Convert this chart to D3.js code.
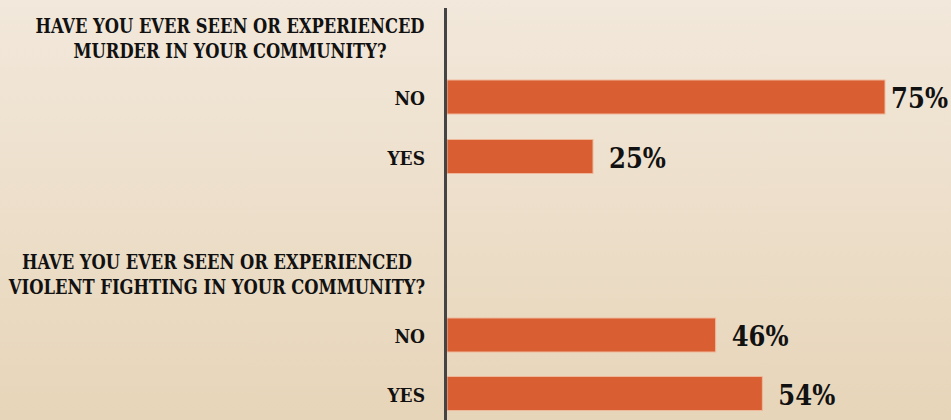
<!DOCTYPE html>
<html>
<head>
<meta charset="utf-8">
<script src="https://cdn.jsdelivr.net/npm/d3@7/dist/d3.min.js"></script>
<style>
  html, body { margin: 0; padding: 0; }
  body { width: 951px; height: 420px; overflow: hidden; }
  svg { display: block; }
  text { font-family: "DejaVu Serif", "Liberation Serif", serif; font-stretch: condensed; font-weight: bold; fill: #111; }
</style>
</head>
<body>
<div id="chart"></div>
<script>
// Survey answers, one group per question
const questions = [
  ["HAVE YOU EVER SEEN OR EXPERIENCED", "MURDER IN YOUR COMMUNITY?"],
  ["HAVE YOU EVER SEEN OR EXPERIENCED", "VIOLENT FIGHTING IN YOUR COMMUNITY?"]
];
const answers = ["NO", "YES"];
const murderValues = [75, 25];
const fightingValues = [46, 54];

const width = 951, height = 420;
const axisX = 445.5;

const svg = d3.select("#chart").append("svg")
  .attr("width", width).attr("height", height);

// Background: soft parchment gradient
const defs = svg.append("defs");
const grad = defs.append("linearGradient").attr("id", "bg")
  .attr("x1", 0).attr("y1", 0).attr("x2", 0).attr("y2", 1);
grad.append("stop").attr("offset", "0%").attr("stop-color", "#f2e8db");
grad.append("stop").attr("offset", "100%").attr("stop-color", "#e7d5b9");
svg.append("rect").attr("width", width).attr("height", height).attr("fill", "url(#bg)");

// Rows: question header, then answers
const rows = [
  { key: "m-NO", value: murderValues[0], answer: answers[0] },
  { key: "m-YES", value: murderValues[1], answer: answers[1] },
  { key: "f-NO", value: fightingValues[0], answer: answers[0] },
  { key: "f-YES", value: fightingValues[1], answer: answers[1] }
];

const y = d3.scaleOrdinal()
  .domain(rows.map(d => d.key))
  .range([97, 156.5, 335, 393.5]);
const barH = 34;

const x = d3.scaleLinear().domain([0, 100]).range([axisX + 1.5, axisX + 1.5 + 584]);

// Bars
svg.selectAll("rect.bar").data(rows).join("rect")
  .attr("class", "bar")
  .attr("x", x(0))
  .attr("y", d => y(d.key) - barH / 2)
  .attr("width", d => x(d.value) - x(0))
  .attr("height", barH)
  .attr("fill", "#d95f33")
  .attr("stroke", "#f0b89a")
  .attr("stroke-width", 1);

// Answer labels
svg.selectAll("text.ans").data(rows).join("text")
  .attr("class", "ans")
  .attr("x", 425)
  .attr("y", d => y(d.key) + 8)
  .attr("text-anchor", "end")
  .style("font-size", "19px")
  .text(d => d.answer);

// Value labels
svg.selectAll("text.val").data(rows).join("text")
  .attr("class", "val")
  .attr("y", d => y(d.key) + 11)
  .style("font-size", "27px")
  .text(d => d.value + "%")
  .each(function(d) {
    const w = this.getComputedTextLength();
    const px = Math.min(x(d.value) + 16, width - 3 - w);
    d3.select(this).attr("x", px);
  });

// Question headers, squeezed horizontally to fit the label column
const qPos = [{ cx: 230, y0: 33, fit: 389 }, { cx: 217, y0: 269, fit: 390 }];
questions.forEach((lines, i) => {
  const g = svg.append("g");
  const t = g.append("text")
    .attr("text-anchor", "middle")
    .style("font-size", "20.5px");
  lines.forEach((ln, j) => {
    t.append("tspan").attr("x", 0).attr("y", qPos[i].y0 + j * 25.5).text(ln);
  });
  const w0 = t.select("tspan").node().getComputedTextLength();
  const sx = Math.min(1, qPos[i].fit / w0);
  g.attr("transform", `translate(${qPos[i].cx},0) scale(${sx},1)`);
});

// Category axis line
svg.append("line")
  .attr("x1", axisX).attr("x2", axisX)
  .attr("y1", 8).attr("y2", height)
  .attr("stroke", "#444").attr("stroke-width", 3);
</script>
</body>
</html>
